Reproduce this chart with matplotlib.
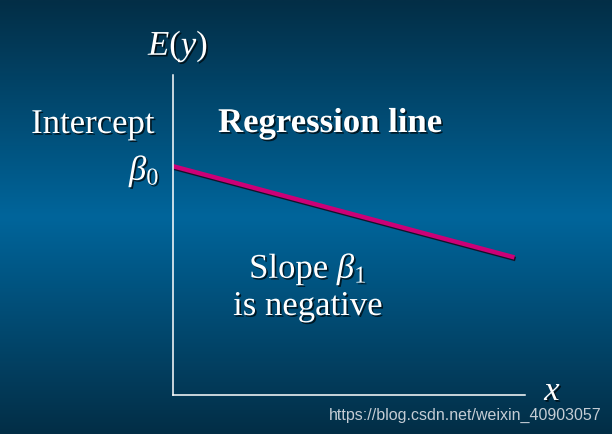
import numpy as np
import matplotlib
matplotlib.use("Agg")
import matplotlib.pyplot as plt
import matplotlib.patheffects as pe
from matplotlib.colors import LinearSegmentedColormap

plt.rcParams['font.family'] = ['Liberation Serif', 'DejaVu Serif']
plt.rcParams['mathtext.fontset'] = 'custom'
plt.rcParams['mathtext.rm'] = 'Liberation Serif'
plt.rcParams['mathtext.it'] = 'Liberation Serif:italic'

# Data: the regression line (in axis units, 0..10 on both axes)
line_x = [0.0, 9.7]
line_y = [7.15, 4.3]

# Labels
y_label = r'$E(y)$'
x_label = r'$x$'
intercept_label = 'Intercept'
intercept_sym = r'$\beta_0$'
line_label = 'Regression line'
slope_label = [r'Slope $\beta_1$', 'is negative']
watermark = 'https://blog.csdn.net/weixin_40903057'

W, H = 612, 434
fig = plt.figure(figsize=(W / 100, H / 100), dpi=100)

# Background gradient (dark at top and bottom, brighter blue in the middle)
bg = fig.add_axes([0, 0, 1, 1])
bg_cmap = LinearSegmentedColormap.from_list(
    "bg", [(0.0, "#032e46"), (0.5, "#00659b"), (1.0, "#032e46")])
grad = np.linspace(0, 1, 256).reshape(-1, 1)
bg.imshow(grad, aspect='auto', cmap=bg_cmap, extent=[0, 1, 0, 1])
bg.set_axis_off()


def px(x, y):
    return x / W, 1 - y / H


# Main axes: y-axis at x=173 from y=75 to 395, x-axis to x=525
left, top = px(173, 75)
right, bottom = px(525, 395)
ax = fig.add_axes([left, bottom, right - left, top - bottom])
ax.patch.set_alpha(0)
ax.set_xlim(0, 10)
ax.set_ylim(0, 10)
for s in ['top', 'right']:
    ax.spines[s].set_visible(False)
for s in ['left', 'bottom']:
    ax.spines[s].set_color('white')
    ax.spines[s].set_linewidth(1.1)
ax.set_xticks([])
ax.set_yticks([])

ax.plot(line_x, line_y, color='#cc0077', linewidth=3.2, solid_capstyle='butt',
        path_effects=[pe.SimpleLineShadow(offset=(0.8, -1.2), shadow_color='#1a0010', alpha=0.8),
                      pe.Normal()])

shadow = [pe.withSimplePatchShadow(offset=(1.2, -1.2), shadow_rgbFace='black', alpha=0.7)]
fs = 25

fig.text(*px(148, 55), y_label, fontsize=fs, color='white', ha='left', va='baseline',
         path_effects=shadow)
fig.text(*px(93, 133), intercept_label, fontsize=fs, color='white', ha='center', va='baseline',
         path_effects=shadow)
fig.text(*px(160, 180), intercept_sym, fontsize=fs, color='white', ha='right', va='baseline',
         path_effects=shadow)
fig.text(*px(330, 132), line_label, fontsize=fs, color='white', fontweight='bold',
         ha='center', va='baseline', path_effects=shadow)
fig.text(*px(308, 278), slope_label[0], fontsize=fs, color='white', ha='center', va='baseline',
         path_effects=shadow)
fig.text(*px(308, 315), slope_label[1], fontsize=fs, color='white', ha='center', va='baseline',
         path_effects=shadow)
fig.text(*px(553, 400), x_label, fontsize=fs, color='white', ha='center', va='baseline',
         path_effects=shadow)
fig.text(*px(601, 420), watermark, fontsize=11.5, color='#c4ccd4', family='Liberation Sans',
         ha='right', va='baseline')

fig.savefig('out.png', dpi=100)
